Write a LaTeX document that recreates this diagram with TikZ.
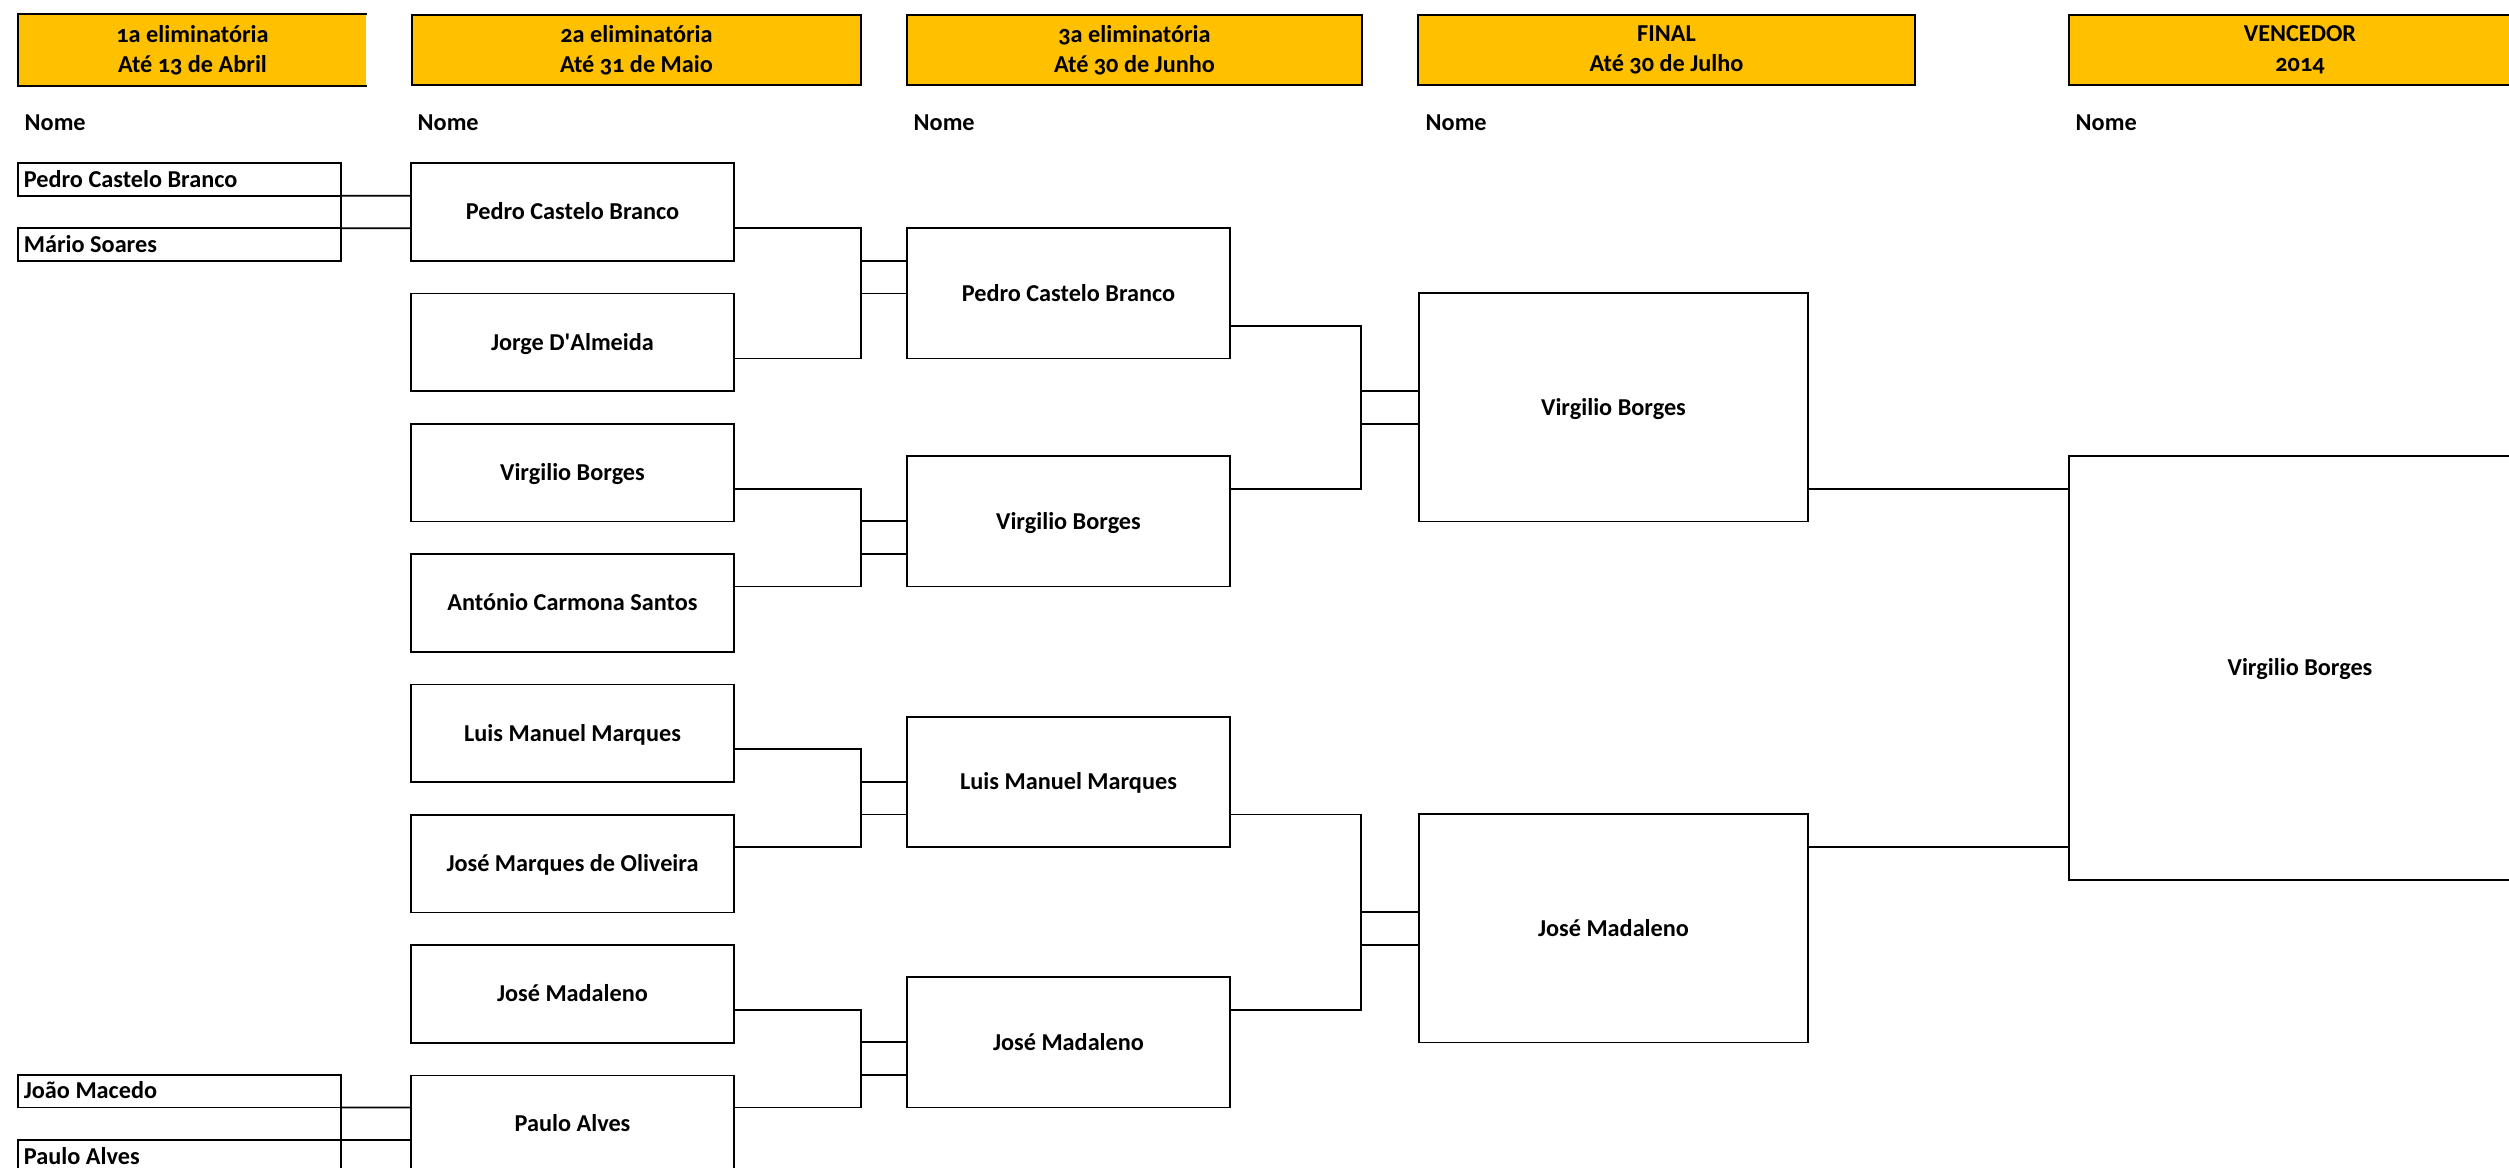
\documentclass[tikz,border=0pt]{standalone}
\usepackage{fontspec}
\setmainfont{Carlito}[Numbers=OldStyle]
\usetikzlibrary{positioning}
\definecolor{gold}{HTML}{FFC000}
\newcommand{\lname}[1]{\makebox[3.11cm][l]{#1}}

\begin{document}
\begin{tikzpicture}[x=0.01cm, y=-0.01cm, node distance=0.3256cm]
	\tikzset{base/.style={font=\bfseries\fontsize{6.9}{8.5}\selectfont}}
	\tikzset{cell/.style={base, draw, rectangle, line width=0.5pt, inner sep=0pt, outer sep=0pt, text height=4.4pt, text depth=0pt}}
	\tikzset{seed/.style={cell, minimum width=3.23cm, minimum height=0.3256cm}}
	\tikzset{tie/.style={cell, minimum width=3.23cm, minimum height=0.9768cm}}
	\tikzset{semi/.style={cell, minimum width=3.23cm, minimum height=1.3024cm}}
	\tikzset{final/.style={cell, minimum width=3.89cm, minimum height=2.2792cm}}
	\tikzset{champ/.style={cell, minimum width=4.62cm, minimum height=4.2328cm}}
	\tikzset{head/.style={base, fill=gold, draw, line width=0.6pt, inner sep=0pt, minimum height=0.70cm, align=center}}
	\tikzset{nome/.style={base, anchor=west, inner sep=0pt}}
	\tikzset{wire/.style={line width=0.5pt}}

	\useasboundingbox (0,0) rectangle (2509,1168);
	\clip (0,0) rectangle (2509,1168);

	% rows of the sheet
	\foreach \k in {0,...,31} \coordinate (row\k) at (0,{163.2+32.56*\k});
	\coordinate (j2) at (861,0);
	\coordinate (j3) at (1361,0);

	% Headers
	\node (h1) [head, draw=none, minimum width=3.47cm] at (192.5,50) {1a eliminatória\\Até 13 de Abril};
	\draw [line width=0.6pt] (h1.north east) -- (h1.north west) -- (h1.south west) -- (h1.south east);
	\node (h2) [head, minimum width=4.49cm] at (636.5,50) {2a eliminatória\\Até 31 de Maio};
	\node (h3) [head, minimum width=4.55cm] at (1134.5,50) {3a eliminatória\\Até 30 de Junho};
	\node (h4) [head, minimum width=4.97cm] at (1666.5,50) {FINAL\\Até 30 de Julho};
	\node (h5) [head, minimum width=4.62cm] at (2300,50) {VENCEDOR\\2014};

	\node (n1) [nome] at (24,123) {Nome};
	\node (n2) [nome] at (417,123) {Nome};
	\node (n3) [nome] at (913,123) {Nome};
	\node (n4) [nome] at (1425,123) {Nome};
	\node (n5) [nome] at (2075,123) {Nome};

	% Round 1
	\node (r1pcb) [seed] at (179.5,{163.2+32.56*0.5}) {\lname{Pedro Castelo Branco}};
	\node (r1mso) [seed, below=of r1pcb] {\lname{Mário Soares}};
	\node (r1jma) [seed] at (179.5,{163.2+32.56*28.5}) {\lname{João Macedo}};
	\node (r1pal) [seed, below=of r1jma] {\lname{Paulo Alves}};

	% Round 2
	\node (r2pcb) [tie] at (572.5,{163.2+32.56*1.5}) {Pedro Castelo Branco};
	\node (r2jda) [tie, below=of r2pcb] {Jorge D\textquotesingle Almeida};
	\node (r2vbo) [tie, below=of r2jda] {Virgilio Borges};
	\node (r2acs) [tie, below=of r2vbo] {António Carmona Santos};
	\node (r2lmm) [tie, below=of r2acs] {Luis Manuel Marques};
	\node (r2jmo) [tie, below=of r2lmm] {José Marques de Oliveira};
	\node (r2jma) [tie, below=of r2jmo] {José Madaleno};
	\node (r2pal) [tie, below=of r2jma] {Paulo Alves};

	% Round 3
	\node (r3pcb) [semi] at (1068.5,{163.2+32.56*4}) {Pedro Castelo Branco};
	\node (r3vbo) [semi] at (1068.5,{163.2+32.56*11}) {Virgilio Borges};
	\node (r3lmm) [semi] at (1068.5,{163.2+32.56*19}) {Luis Manuel Marques};
	\node (r3jma) [semi] at (1068.5,{163.2+32.56*27}) {José Madaleno};

	% Final and winner
	\node (fvbo) [final] at (1613.5,{163.2+32.56*7.5}) {Virgilio Borges};
	\node (fjma) [final] at (1613.5,{163.2+32.56*23.5}) {José Madaleno};
	\node (win) [champ] at (2300,{163.2+32.56*15.5}) {Virgilio Borges};

	% Round 1 -> 2
	\draw [wire] (r1pcb.south east) -- (r1mso.north east);
	\draw [wire] (r1pcb.south east) -- (r2pcb.west |- row1);
	\draw [wire] (r1mso.north east) -- (r2pcb.west |- row2);
	\draw [wire] (r1jma.south east) -- (r1pal.north east);
	\draw [wire] (r1jma.south east) -- (r2pal.west |- row29);
	\draw [wire] (r1pal.north east) -- (r2pal.west |- row30);

	% Round 2 -> 3
	\foreach \a/\ya/\b/\yb/\c/\sa/\sb in {r2pcb/2/r2jda/6/r3pcb/3/4, r2vbo/10/r2acs/13/r3vbo/11/12, r2lmm/18/r2jmo/21/r3lmm/19/20, r2jma/26/r2pal/29/r3jma/27/28}{
		\draw [wire] (\a.east |- row\ya) -| (j2 |- row\yb) -- (\b.east |- row\yb);
		\draw [wire] (j2 |- row\sa) -- (\c.west |- row\sa);
		\draw [wire] (j2 |- row\sb) -- (\c.west |- row\sb);
	}

	% Round 3 -> final
	\foreach \a/\ya/\b/\yb/\c/\sa/\sb in {r3pcb/5/r3vbo/10/fvbo/7/8, r3lmm/20/r3jma/26/fjma/23/24}{
		\draw [wire] (\a.east |- row\ya) -| (j3 |- row\yb) -- (\b.east |- row\yb);
		\draw [wire] (j3 |- row\sa) -- (\c.west |- row\sa);
		\draw [wire] (j3 |- row\sb) -- (\c.west |- row\sb);
	}

	% Final -> winner
	\draw [wire] (fvbo.east |- row10) -- (win.west |- row10);
	\draw [wire] (fjma.east |- row21) -- (win.west |- row21);
\end{tikzpicture}
\end{document}
